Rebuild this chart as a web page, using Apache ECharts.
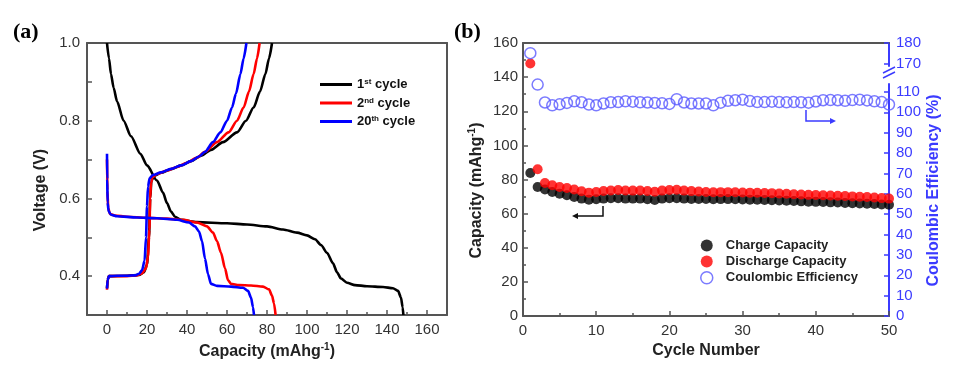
<!DOCTYPE html>
<html>
<head>
<meta charset="utf-8">
<script src="https://cdn.jsdelivr.net/npm/echarts@6/dist/echarts.min.js"></script>
<style>
  html, body { margin: 0; padding: 0; background: #fff; }
  #chart { width: 975px; height: 378px; }
</style>
</head>
<body>
<div id="chart"></div>
<script>
// ---------- Panel (a): voltage profiles [capacity mAh/g, voltage V] ----------
const cyc1Discharge = [[0,1.0],[1,0.96],[2,0.92],[3.3,0.885],[5,0.85],[8.3,0.80],[12,0.76],[16.7,0.715],[20,0.685],[25,0.646],[28,0.615],[30,0.588],[32,0.566],[34,0.553],[37,0.545],[45,0.539],[60,0.536],[70,0.533],[80,0.528],[88,0.52],[95,0.512],[100,0.505],[104,0.495],[107,0.48],[110,0.46],[113,0.433],[115,0.41],[117,0.394],[120,0.383],[124,0.377],[130,0.374],[138,0.372],[143,0.369],[145.5,0.362],[147,0.345],[147.8,0.32],[148.2,0.30]];
const cyc1Charge = [[0,0.37],[0.4,0.392],[1,0.40],[10,0.401],[16,0.403],[18.5,0.41],[20,0.43],[21,0.50],[21.6,0.60],[22.2,0.645],[23.5,0.658],[27,0.666],[32,0.675],[37,0.685],[42,0.696],[47,0.71],[52,0.725],[58,0.745],[65,0.77],[69.5,0.80],[73.3,0.834],[76.5,0.875],[79.2,0.92],[81,0.96],[82.5,1.0]];
const cyc2Discharge = [[0,0.70],[0.2,0.62],[0.6,0.575],[1.5,0.56],[4,0.556],[10,0.553],[20,0.55],[30,0.548],[38,0.545],[45,0.538],[50,0.528],[53,0.512],[55,0.49],[57,0.46],[59,0.42],[60.5,0.39],[62,0.38],[66,0.377],[72,0.376],[78,0.373],[81,0.366],[82.5,0.35],[83.5,0.33],[84.3,0.30]];
const cyc2Charge = [[0,0.365],[0.3,0.39],[1,0.40],[10,0.40],[15,0.402],[17.5,0.407],[19.5,0.42],[20.5,0.45],[21.2,0.52],[21.6,0.60],[22,0.64],[22.8,0.655],[25,0.663],[30,0.672],[35,0.681],[40,0.692],[45,0.705],[49,0.72],[55,0.745],[60.8,0.77],[65,0.80],[68.3,0.834],[71,0.875],[73.3,0.92],[75,0.96],[76.3,1.0]];
const cyc20Discharge = [[0,0.715],[0.1,0.65],[0.3,0.59],[0.8,0.567],[2,0.558],[5,0.554],[15,0.551],[25,0.549],[35,0.545],[41,0.538],[44,0.528],[46,0.515],[47.5,0.49],[49,0.445],[50.5,0.405],[52,0.38],[55,0.375],[62,0.373],[68,0.37],[70.5,0.362],[72,0.345],[73,0.32],[73.5,0.30]];
const cyc20Charge = [[0,0.368],[0.3,0.39],[1,0.40],[5,0.401],[10,0.401],[14,0.402],[16,0.406],[17.5,0.415],[18.8,0.44],[19.5,0.50],[20,0.58],[20.5,0.63],[21.3,0.652],[23,0.66],[27,0.667],[32,0.676],[37,0.685],[42,0.696],[46,0.708],[49,0.72],[53,0.745],[56.7,0.77],[60,0.80],[62.5,0.834],[64.5,0.87],[66.7,0.92],[68.3,0.96],[69.7,1.0]];
const cycleNames = ['1st cycle', '2nd cycle', '20th cycle'];
const capTicksA = [0, 20, 40, 60, 80, 100, 120, 140, 160];
const capMinorTicksA = [10, 30, 50, 70, 90, 110, 130, 150];

// ---------- Panel (b): cycling ----------
const cycles = Array.from({length: 50}, (_, i) => i + 1);
const chargeCap = [83.8,75.6,74.1,72.7,71.7,70.8,69.8,68.8,68.2,68.4,68.8,69,69,68.8,68.8,68.8,68.4,68,68.8,69,69,68.8,68.6,68.6,68.6,68.4,68.5,68.5,68.4,68.3,68.2,68.1,68,67.9,67.7,67.6,67.4,67.2,67,66.9,66.8,66.6,66.5,66.3,66.1,65.9,65.8,65.6,65.4,65.2];
const dischargeCap = [148,86,78,76.6,75.6,75,74.1,73.1,72.3,72.7,73.3,73.6,73.8,73.6,73.5,73.6,73.3,72.8,73.5,73.8,74,73.5,73.2,73,72.7,72.5,72.6,72.6,72.5,72.4,72.3,72.2,72.1,72,71.8,71.6,71.4,71.2,71,70.9,70.8,70.6,70.5,70.3,70.1,69.9,69.7,69.4,69.1,68.8];
const coulombicEff = [175,113.6,104.8,103.4,103.9,104.6,105.4,104.9,103.8,103.4,104.3,104.9,105,105.4,105.2,104.9,104.8,104.6,104.4,104.1,106.4,104.8,104.3,104.3,104.3,103.4,104.7,105.6,105.9,106.2,105.5,105,105,105.2,105,104.9,105,104.9,104.7,105.3,105.9,106,105.9,105.6,106,106.2,105.8,105.4,105,103.8];
const seriesNamesB = ['Charge Capacity', 'Discharge Capacity', 'Coulombic Efficiency'];
const ceTicks = [0, 10, 20, 30, 40, 50, 60, 70, 80, 90, 100, 110, 170, 180];

const AX = '#555';
const TXT = '#333';
const BLUE = '#3b3bff';
const FONT = 'Arial, "Liberation Sans", sans-serif';

const chart = echarts.init(document.getElementById('chart'), null, {renderer: 'canvas'});

function lineSeries(name, data, color) {
  return {
    name, type: 'line', data, xAxisIndex: 0, yAxisIndex: 0,
    showSymbol: false, symbol: 'none', smooth: 0.25, smoothMonotone: 'x',
    lineStyle: {color, width: 2.6}, itemStyle: {color}, animation: false
  };
}

const option = {
  animation: false,
  backgroundColor: '#fff',
  textStyle: {fontFamily: FONT},
  grid: [
    {left: 87, right: 528, top: 43, bottom: 63, containLabel: false},
    {left: 523, right: 86, top: 43, bottom: 62, containLabel: false}
  ],
  legend: [
    {
      data: cycleNames, left: 315, top: 73, orient: 'vertical',
      icon: 'rect', itemWidth: 32, itemHeight: 3, itemGap: 5.5,
      textStyle: {fontSize: 13, fontWeight: 'bold', color: '#111', fontFamily: FONT,
        rich: {s: {fontSize: 8, fontWeight: 'bold', verticalAlign: 'top', color: '#111'},
               n: {fontSize: 13, fontWeight: 'bold', color: '#111'}}},
      formatter: function (name) {
        const m = name.match(/^(\d+)(st|nd|th)(.*)$/);
        return '{n|' + m[1] + '}{s|' + m[2] + '}{n|' + m[3] + '}';
      }
    },
    {
      data: [
        {name: seriesNamesB[0], icon: 'circle'},
        {name: seriesNamesB[1], icon: 'circle'},
        {name: seriesNamesB[2], icon: 'circle', itemStyle: {color: 'transparent', borderColor: '#5a5aff', borderWidth: 1.5}}
      ],
      left: 695, top: 234, orient: 'vertical',
      itemWidth: 12, itemHeight: 12, itemGap: 3,
      textStyle: {fontSize: 13, fontWeight: 'bold', color: '#222', fontFamily: FONT, padding: [0, 0, 0, 8]}
    }
  ],
  xAxis: [
    { // 0: panel a bottom
      gridIndex: 0, type: 'value', min: -10, max: 170, position: 'bottom',
      axisLine: {show: true, onZero: false, lineStyle: {color: AX, width: 2}},
      axisTick: {show: true, inside: true, length: 5, customValues: capTicksA, lineStyle: {color: AX, width: 1.5}},
      axisLabel: {customValues: capTicksA, fontSize: 15, color: TXT, margin: 7, fontFamily: FONT},
      splitLine: {show: false},
      name: 'Capacity (mAhg{sup|-1})', nameLocation: 'middle', nameGap: 24,
      nameTextStyle: {fontSize: 16, fontWeight: 'bold', color: '#222', fontFamily: FONT, lineHeight: 20,
        rich: {sup: {fontSize: 10, fontWeight: 'bold', verticalAlign: 'top', color: '#222'}}}
    },
    { // 1: panel a minor ticks
      gridIndex: 0, type: 'value', min: -10, max: 170, position: 'bottom',
      axisLine: {show: false, onZero: false},
      axisTick: {show: true, inside: true, length: 3, customValues: capMinorTicksA, lineStyle: {color: AX, width: 1.5}},
      axisLabel: {show: false}, splitLine: {show: false}
    },
    { // 2: panel a top frame
      gridIndex: 0, type: 'value', min: -10, max: 170, position: 'top',
      axisLine: {show: true, onZero: false, lineStyle: {color: AX, width: 2}},
      axisTick: {show: false}, axisLabel: {show: false}, splitLine: {show: false}
    },
    { // 3: panel b bottom
      gridIndex: 1, type: 'value', min: 0, max: 50, interval: 10, position: 'bottom',
      axisLine: {show: true, onZero: false, lineStyle: {color: AX, width: 2}},
      axisTick: {show: true, inside: true, length: 5, lineStyle: {color: AX, width: 1.5}},
      minorTick: {show: true, splitNumber: 2, length: 3, lineStyle: {color: AX, width: 1.5}},
      axisLabel: {fontSize: 15, color: TXT, margin: 7, fontFamily: FONT},
      splitLine: {show: false},
      name: 'Cycle Number', nameLocation: 'middle', nameGap: 24,
      nameTextStyle: {fontSize: 16, fontWeight: 'bold', color: '#222', fontFamily: FONT}
    },
    { // 4: panel b top frame
      gridIndex: 1, type: 'value', min: 0, max: 50, position: 'top',
      axisLine: {show: true, onZero: false, lineStyle: {color: AX, width: 2}},
      axisTick: {show: false}, axisLabel: {show: false}, splitLine: {show: false}
    }
  ],
  yAxis: [
    { // 0: panel a left
      gridIndex: 0, type: 'value', min: 0.3, max: 1.0, interval: 0.1, position: 'left',
      axisLine: {show: true, onZero: false, lineStyle: {color: AX, width: 2}},
      axisTick: {show: true, inside: true, length: 5, lineStyle: {color: AX, width: 1.5}},
      axisLabel: {fontSize: 15, color: TXT, margin: 7, fontFamily: FONT,
        formatter: function (v) { const k = Math.round(v * 10); return (k % 2 === 0 && k >= 4) ? (k / 10).toFixed(1) : ''; }},
      splitLine: {show: false},
      name: 'Voltage (V)', nameLocation: 'middle', nameGap: 38, nameRotate: 90,
      nameTextStyle: {fontSize: 16, fontWeight: 'bold', color: '#222', fontFamily: FONT, padding: [0, 22, 0, 0]}
    },
    { // 1: panel a right frame
      gridIndex: 0, type: 'value', min: 0.3, max: 1.0, position: 'right',
      axisLine: {show: true, onZero: false, lineStyle: {color: AX, width: 2}},
      axisTick: {show: false}, axisLabel: {show: false}, splitLine: {show: false}
    },
    { // 2: panel b left
      gridIndex: 1, type: 'value', min: 0, max: 160, interval: 20, position: 'left',
      axisLine: {show: true, onZero: false, lineStyle: {color: AX, width: 2}},
      axisTick: {show: true, inside: true, length: 5, lineStyle: {color: AX, width: 1.5}},
      minorTick: {show: true, splitNumber: 2, length: 3, lineStyle: {color: AX, width: 1.5}},
      axisLabel: {fontSize: 15, color: TXT, margin: 5, fontFamily: FONT},
      splitLine: {show: false},
      name: 'Capacity (mAhg{sup|-1})', nameLocation: 'middle', nameGap: 36, nameRotate: 90,
      nameTextStyle: {fontSize: 16, fontWeight: 'bold', color: '#222', fontFamily: FONT, lineHeight: 20, padding: [0, 22, 0, 0],
        rich: {sup: {fontSize: 10, fontWeight: 'bold', verticalAlign: 'top', color: '#222'}}}
    },
    { // 3: panel b right (coulombic efficiency, broken axis)
      gridIndex: 1, type: 'value', min: 0, max: 180, interval: 10, position: 'right',
      breaks: [{start: 114, end: 169, gap: 9}],
      breakArea: {show: false},
      axisLine: {show: true, onZero: false, lineStyle: {color: BLUE, width: 2}},
      axisTick: {show: true, inside: true, length: 5, customValues: ceTicks, lineStyle: {color: BLUE, width: 1.5}},
      axisLabel: {customValues: ceTicks, fontSize: 15, color: BLUE, margin: 7, fontFamily: FONT, hideOverlap: false},
      splitLine: {show: false},
      name: 'Coulombic Efficiency (%)', nameLocation: 'middle', nameGap: 37, nameRotate: 90,
      nameTextStyle: {fontSize: 16, fontWeight: 'bold', color: BLUE, fontFamily: FONT, padding: [0, 22, 0, 0]}
    }
  ],
  series: [
    lineSeries(cycleNames[0], cyc1Discharge, '#000000'),
    lineSeries(cycleNames[0], cyc1Charge, '#000000'),
    lineSeries(cycleNames[1], cyc2Discharge, '#ff0000'),
    lineSeries(cycleNames[1], cyc2Charge, '#ff0000'),
    lineSeries(cycleNames[2], cyc20Discharge, '#0000ff'),
    lineSeries(cycleNames[2], cyc20Charge, '#0000ff'),
    {
      name: seriesNamesB[0], type: 'scatter', xAxisIndex: 3, yAxisIndex: 2,
      data: cycles.map((c, i) => [c, chargeCap[i]]), symbol: 'circle', symbolSize: 10,
      itemStyle: {color: '#000'}, clip: false
    },
    {
      name: seriesNamesB[1], type: 'scatter', xAxisIndex: 3, yAxisIndex: 2,
      data: cycles.map((c, i) => [c, dischargeCap[i]]), symbol: 'circle', symbolSize: 10,
      itemStyle: {color: '#ff0000'}, clip: false
    },
    {
      name: seriesNamesB[2], type: 'scatter', xAxisIndex: 3, yAxisIndex: 3,
      data: cycles.map((c, i) => [c, coulombicEff[i]]), symbol: 'circle', symbolSize: 11,
      itemStyle: {color: 'transparent', borderColor: '#5a5aff', borderWidth: 1.5}, clip: false
    }
  ],
  graphic: [
    {type: 'text', left: 13, top: 21, style: {text: '(a)', font: 'bold 22px "Liberation Serif", "Times New Roman", serif', fill: '#000'}},
    {type: 'text', left: 454, top: 21, style: {text: '(b)', font: 'bold 22px "Liberation Serif", "Times New Roman", serif', fill: '#000'}},
    // left-pointing arrow (capacity -> left axis)
    {type: 'polyline', shape: {points: [[603, 206], [603, 216], [577, 216]]}, style: {stroke: '#111', lineWidth: 1.5, fill: null}},
    {type: 'polygon', shape: {points: [[572, 216], [578, 213], [578, 219]]}, style: {fill: '#111'}},
    // right-pointing arrow (efficiency -> right axis)
    {type: 'polyline', shape: {points: [[806, 110], [806, 121], [831, 121]]}, style: {stroke: BLUE, lineWidth: 1.5, fill: null}},
    {type: 'polygon', shape: {points: [[836, 121], [830, 118], [830, 124]]}, style: {fill: BLUE}},
    // axis-break mark on the right axis
    {type: 'rect', z: 100, shape: {x: 886, y: 70, width: 7, height: 5}, style: {fill: '#fff'}},
    {type: 'line', z: 101, shape: {x1: 883, y1: 73, x2: 895, y2: 67}, style: {stroke: BLUE, lineWidth: 1.5}},
    {type: 'line', z: 101, shape: {x1: 883, y1: 78, x2: 895, y2: 72}, style: {stroke: BLUE, lineWidth: 1.5}}
  ]
};

chart.setOption(option);
</script>
</body>
</html>
